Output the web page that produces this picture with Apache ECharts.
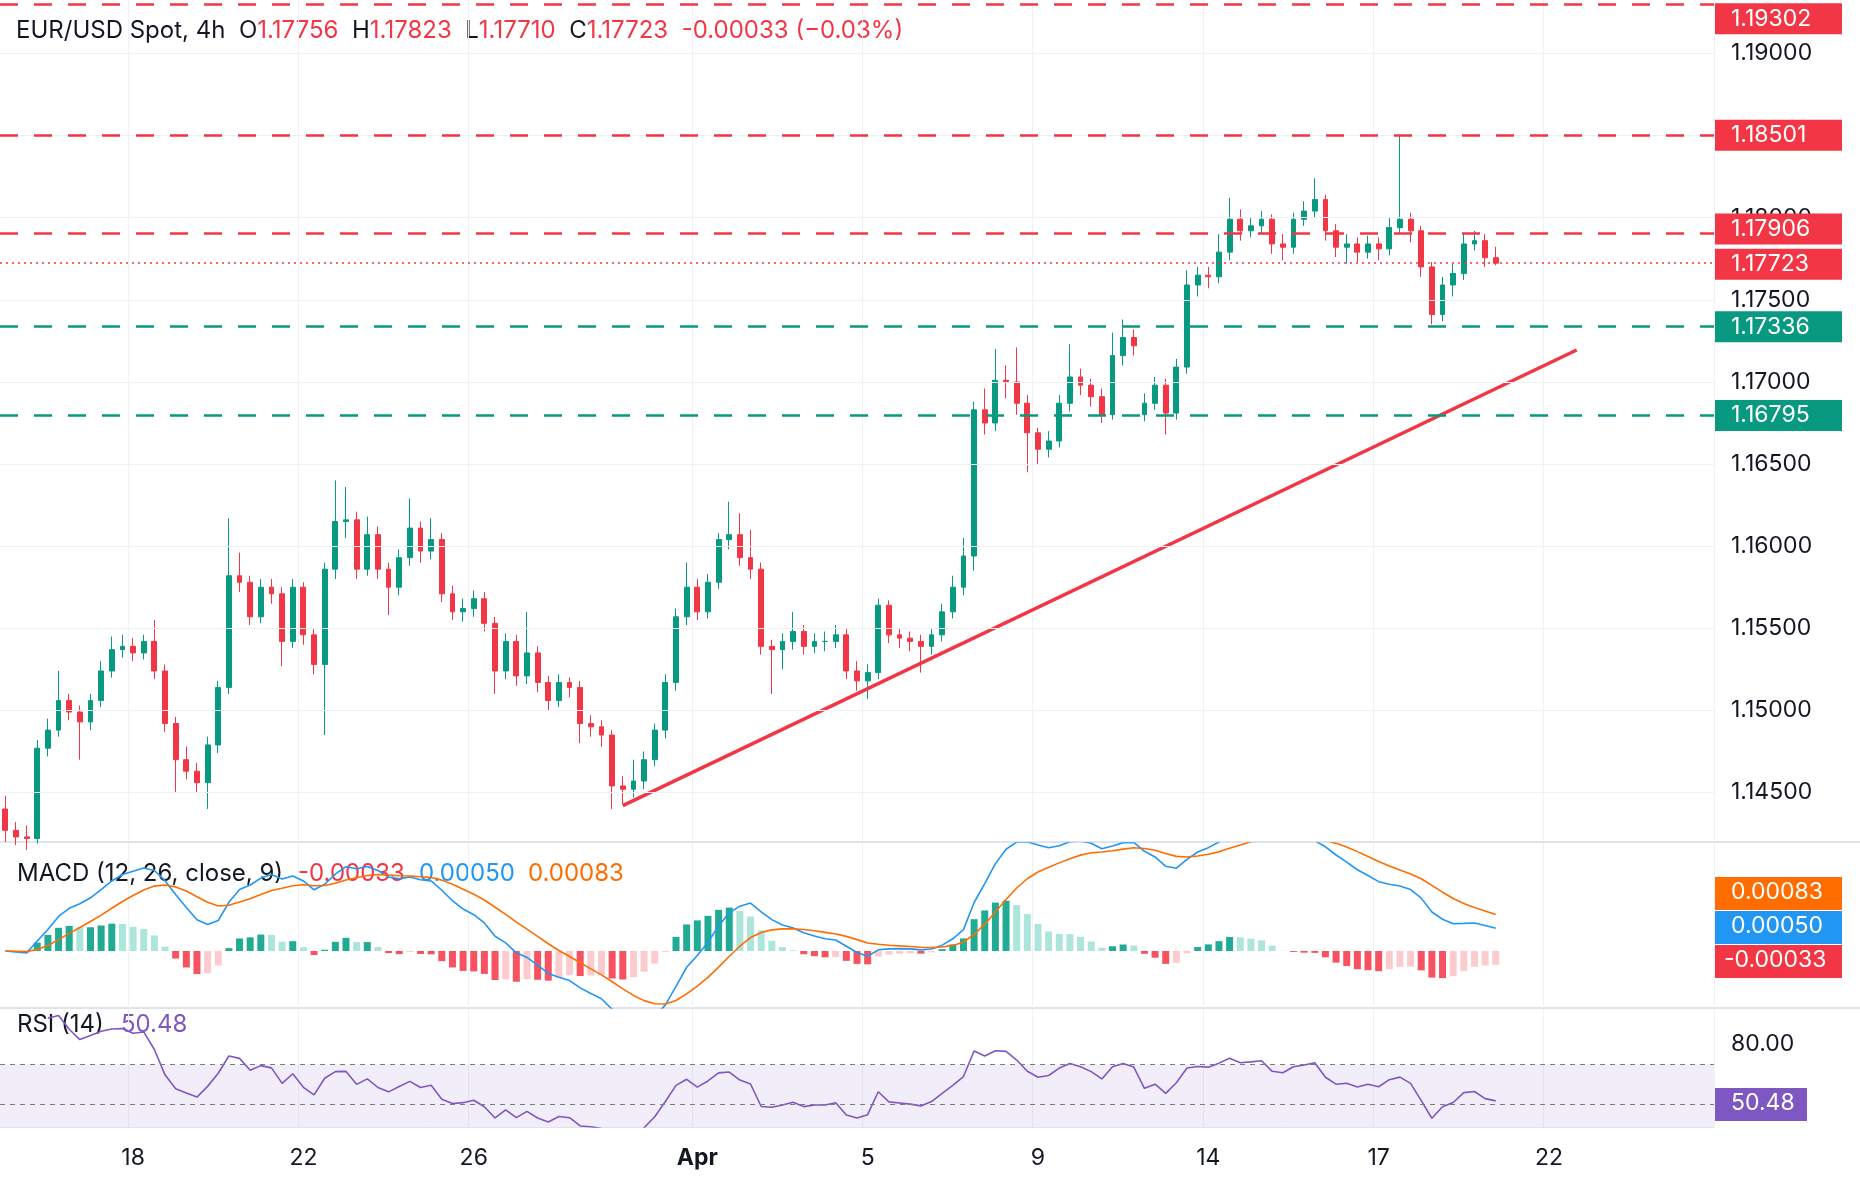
<!DOCTYPE html>
<html>
<head>
<meta charset="utf-8">
<script src="https://cdn.jsdelivr.net/npm/echarts@6/dist/echarts.min.js"></script>
<style>
  html, body { margin: 0; padding: 0; background: #fff; }
  #chart { width: 1860px; height: 1184px; }
</style>
</head>
<body>
<div id="chart"></div>
<script>
// 4h candles, [open, close, low, high]
var candles = [
  [1.1440,1.1427,1.1420,1.1448],[1.1427,1.1423,1.1418,1.1432],[1.1423,1.1422,1.1415,1.1430],[1.1422,1.1477,1.1419,1.1482],
  [1.1477,1.1488,1.1472,1.1495],[1.1488,1.1506,1.1484,1.1524],[1.1506,1.1499,1.1494,1.1510],[1.1499,1.1493,1.1470,1.1503],
  [1.1493,1.1506,1.1488,1.1510],[1.1506,1.1524,1.1502,1.1530],[1.1524,1.1537,1.1520,1.1545],[1.1537,1.1539,1.1532,1.1546],
  [1.1539,1.1535,1.1530,1.1544],[1.1535,1.1542,1.1531,1.1546],[1.1542,1.1524,1.1519,1.1555],[1.1524,1.1492,1.1487,1.1528],
  [1.1492,1.1470,1.1450,1.1496],[1.1470,1.1463,1.1458,1.1478],[1.1463,1.1456,1.1450,1.1468],[1.1456,1.1479,1.1440,1.1484],
  [1.1479,1.1514,1.1474,1.1518],[1.1514,1.1582,1.1510,1.1617],[1.1582,1.1578,1.1572,1.1596],[1.1578,1.1557,1.1552,1.1582],
  [1.1557,1.1575,1.1553,1.1580],[1.1575,1.1571,1.1565,1.1580],[1.1571,1.1542,1.1527,1.1575],[1.1542,1.1575,1.1538,1.1580],
  [1.1575,1.1546,1.1540,1.1578],[1.1546,1.1528,1.1522,1.1550],[1.1528,1.1586,1.1485,1.1590],[1.1586,1.1615,1.1580,1.1640],
  [1.1615,1.1616,1.1605,1.1636],[1.1616,1.1586,1.1580,1.1621],[1.1586,1.1607,1.1582,1.1618],[1.1607,1.1586,1.1580,1.1612],
  [1.1586,1.1575,1.1558,1.1590],[1.1575,1.1593,1.1570,1.1598],[1.1593,1.1611,1.1588,1.1629],[1.1611,1.1597,1.1590,1.1615],
  [1.1597,1.1604,1.1592,1.1617],[1.1604,1.1571,1.1566,1.1608],[1.1571,1.1560,1.1555,1.1576],[1.1560,1.1562,1.1554,1.1568],
  [1.1562,1.1568,1.1557,1.1573],[1.1568,1.1553,1.1548,1.1572],[1.1553,1.1524,1.1510,1.1557],[1.1524,1.1542,1.1519,1.1547],
  [1.1542,1.1521,1.1515,1.1546],[1.1521,1.1535,1.1516,1.1560],[1.1535,1.1517,1.1511,1.1539],[1.1517,1.1506,1.1500,1.1521],
  [1.1506,1.1517,1.1502,1.1522],[1.1517,1.1514,1.1508,1.1520],[1.1514,1.1492,1.1480,1.1518],[1.1492,1.1490,1.1484,1.1497],
  [1.1490,1.1485,1.1478,1.1494],[1.1485,1.1454,1.1440,1.1488],[1.1454,1.1452,1.1443,1.1460],[1.1452,1.1457,1.1447,1.1470],
  [1.1457,1.1470,1.1452,1.1475],[1.1470,1.1488,1.1466,1.1492],[1.1488,1.1517,1.1483,1.1522],[1.1517,1.1557,1.1512,1.1562],
  [1.1557,1.1575,1.1552,1.1590],[1.1575,1.1560,1.1555,1.1580],[1.1560,1.1578,1.1556,1.1583],[1.1578,1.1604,1.1574,1.1608],
  [1.1604,1.1607,1.1598,1.1627],[1.1607,1.1593,1.1588,1.1620],[1.1593,1.1586,1.1580,1.1610],[1.1586,1.1539,1.1534,1.1590],
  [1.1539,1.1537,1.1510,1.1543],[1.1537,1.1542,1.1525,1.1547],[1.1542,1.1548,1.1537,1.1560],[1.1548,1.1539,1.1534,1.1552],
  [1.1539,1.1542,1.1535,1.1547],[1.1542,1.1542,1.1536,1.1548],[1.1542,1.1546,1.1538,1.1552],[1.1546,1.1524,1.1519,1.1550],
  [1.1524,1.1518,1.1512,1.1530],[1.1518,1.1523,1.1507,1.1528],[1.1523,1.1564,1.1519,1.1568],[1.1564,1.1546,1.1541,1.1567],
  [1.1546,1.1544,1.1538,1.1550],[1.1544,1.1542,1.1536,1.1548],[1.1542,1.1539,1.1523,1.1546],[1.1539,1.1546,1.1534,1.1550],
  [1.1546,1.1560,1.1542,1.1565],[1.1560,1.1575,1.1556,1.1582],[1.1575,1.1594,1.1570,1.1605],[1.1594,1.1683,1.1585,1.1688],
  [1.1683,1.1675,1.1668,1.1696],[1.1675,1.1701,1.1670,1.1720],[1.1701,1.1700,1.1690,1.1710],[1.1700,1.1687,1.1680,1.1721],
  [1.1687,1.1669,1.1645,1.1692],[1.1669,1.1659,1.1650,1.1672],[1.1659,1.1664,1.1654,1.1670],[1.1664,1.1687,1.1660,1.1692],
  [1.1687,1.1703,1.1682,1.1723],[1.1703,1.1698,1.1692,1.1708],[1.1698,1.1691,1.1685,1.1702],[1.1691,1.1680,1.1675,1.1696],
  [1.1680,1.1716,1.1677,1.1730],[1.1716,1.1727,1.1710,1.1738],[1.1727,1.1722,1.1716,1.1732],[1.1680,1.1687,1.1676,1.1693],
  [1.1687,1.1698,1.1683,1.1703],[1.1698,1.1681,1.1668,1.1702],[1.1681,1.1709,1.1677,1.1714],[1.1709,1.1759,1.1705,1.1768],
  [1.1759,1.1765,1.1752,1.1770],[1.1765,1.1764,1.1757,1.1770],[1.1764,1.1779,1.1760,1.1790],[1.1779,1.1799,1.1774,1.1812],
  [1.1799,1.1792,1.1786,1.1805],[1.1792,1.1795,1.1788,1.1800],[1.1795,1.1799,1.1790,1.1804],[1.1799,1.1784,1.1778,1.1802],
  [1.1784,1.1782,1.1774,1.1790],[1.1782,1.1799,1.1778,1.1803],[1.1799,1.1804,1.1795,1.1810],[1.1804,1.1811,1.1800,1.1824],
  [1.1811,1.1792,1.1786,1.1814],[1.1792,1.1782,1.1776,1.1796],[1.1782,1.1784,1.1772,1.1790],[1.1784,1.1779,1.1773,1.1788],
  [1.1779,1.1784,1.1775,1.1789],[1.1784,1.1781,1.1774,1.1788],[1.1781,1.1794,1.1777,1.1800],[1.1794,1.1799,1.1790,1.1850],
  [1.1799,1.1792,1.1785,1.1803],[1.1792,1.1770,1.1764,1.1795],[1.1770,1.1741,1.1735,1.1773],[1.1741,1.1759,1.1737,1.1764],
  [1.1759,1.1766,1.1752,1.1772],[1.1766,1.1784,1.1762,1.1790],[1.1784,1.1786,1.1780,1.1792],[1.1786,1.17756,1.1770,1.1790],
  [1.17756,1.17723,1.17710,1.17823]
];
var slotCount = 161;
var tickIndex = [12, 28, 44, 65, 81, 97, 113, 129, 145];
var tickLabels = ['18', '22', '26', 'Apr', '5', '9', '14', '17', '22'];
var priceTicks = [1.145, 1.15, 1.155, 1.16, 1.165, 1.17, 1.175, 1.18, 1.185, 1.19];
var resistLevels = [1.19302, 1.18501, 1.17906];
var supportLevels = [1.17336, 1.16795];
var lastPrice = 1.17723;
var trendIdx = [58, 147.6];
var trendPrice = [1.1442, 1.17194];

var GREEN = '#089981', RED = '#f23645';
var categories = [];
for (var i = 0; i < slotCount; i++) {
  var k = tickIndex.indexOf(i);
  categories.push(k >= 0 ? tickLabels[k] : '');
}
function isTick(i) { return tickIndex.indexOf(i) >= 0; }

// indicators from closes
var closes = candles.map(function (c) { return c[1]; });
function ema(arr, n) {
  var a = 2 / (n + 1), out = [], prev = arr[0];
  arr.forEach(function (v, i) { prev = i ? a * v + (1 - a) * prev : v; out.push(prev); });
  return out;
}
var e12 = ema(closes, 12), e26 = ema(closes, 26);
var macd = closes.map(function (v, i) { return e12[i] - e26[i]; });
var signal = ema(macd, 9);
var hist = macd.map(function (v, i) { return v - signal[i]; });
var histData = hist.map(function (v, i) {
  var p = i ? hist[i - 1] : 0, col;
  if (v >= 0) col = v >= p ? '#22ab94' : '#ace5dc';
  else col = v <= p ? '#f7525f' : '#fccbcd';
  return { value: v, itemStyle: { color: col } };
});
var rsi = [], ag = 0, al = 0;
closes.forEach(function (v, i) {
  if (i === 0) { rsi.push(null); return; }
  var d = v - closes[i - 1], g = d > 0 ? d : 0, l = d < 0 ? -d : 0;
  if (i <= 14) { ag = (ag * (i - 1) + g) / i; al = (al * (i - 1) + l) / i; }
  else { ag = (ag * 13 + g) / 14; al = (al * 13 + l) / 14; }
  rsi.push(i < 4 ? null : (al === 0 ? 100 : 100 - 100 / (1 + ag / al)));
});

var chart = echarts.init(document.getElementById('chart'));
var FONT = 'Inter, "Noto Sans", sans-serif';
var FS = 23;
function tag(v, color, dotted, dy) {
  return {
    yAxis: v,
    lineStyle: { color: color, type: dotted ? [2, 4] : [18, 16], width: dotted ? 1.5 : 2.5 },
    label: {
      show: true, position: 'end', distance: 1, formatter: v.toFixed(5), offset: [0, dy || 0],
      color: '#fff', backgroundColor: color, fontSize: FS, fontFamily: FONT,
      padding: [5, 12, 3, 16], width: 99
    }
  };
}
var levelLines = [tag(resistLevels[0], RED, false, 15), tag(resistLevels[1], RED), tag(resistLevels[2], RED, false, -4)]
  .concat([tag(lastPrice, RED, true, 1)])
  .concat(supportLevels.map(function (v) { return tag(v, GREEN); }));
var gridLines = priceTicks.map(function (v) { return { yAxis: v }; });

function xAxisFor(grid, showLabels) {
  return {
    type: 'category', gridIndex: grid, data: categories, boundaryGap: true,
    axisLine: { show: showLabels, lineStyle: { color: '#e0e3eb' } }, axisTick: { show: false },
    axisLabel: {
      show: showLabels, interval: function (i) { return isTick(i); }, margin: 20,
      fontSize: FS, fontFamily: FONT, color: '#131722',
      formatter: function (v) { return v === 'Apr' ? '{b|Apr}' : v; },
      rich: { b: { fontWeight: 'bold', fontSize: FS, fontFamily: FONT, color: '#131722' } }
    },
    splitLine: { show: true, interval: function (i) { return isTick(i); }, lineStyle: { color: '#f0f1f4' } }
  };
}
function txt(x, y, s, color) {
  return { type: 'text', x: x, y: y, style: { text: s, fontSize: 24, fontFamily: FONT, fill: color } };
}

chart.setOption({
  animation: false,
  backgroundColor: '#fff',
  grid: [
    { left: 0, right: 146, top: 0, height: 840 },
    { left: 0, right: 146, top: 843, height: 165 },
    { left: 0, right: 146, top: 1009, height: 118 }
  ],
  xAxis: [
    xAxisFor(0, false), xAxisFor(1, false), xAxisFor(2, true),
    { type: 'value', gridIndex: 0, min: -0.5, max: slotCount - 0.5, show: false }
  ],
  yAxis: [
    { type: 'value', gridIndex: 0, position: 'right', min: 1.14211, max: 1.19325, scale: true,
      axisLine: { show: false }, axisTick: { show: false }, splitLine: { show: false },
      axisLabel: { customValues: priceTicks, margin: 17, fontSize: FS, fontFamily: FONT, color: '#131722',
        formatter: function (v) { return v.toFixed(5); } } },
    { type: 'value', gridIndex: 1, position: 'right', min: -0.002, max: 0.00379,
      axisLine: { show: false }, axisTick: { show: false }, splitLine: { show: false }, axisLabel: { show: false } },
    { type: 'value', gridIndex: 2, position: 'right', min: 38.8, max: 97.6,
      axisLine: { show: false }, axisTick: { show: false }, splitLine: { show: false },
      axisLabel: { customValues: [80], margin: 17, fontSize: FS, fontFamily: FONT, color: '#131722',
        formatter: function (v) { return v.toFixed(2); } } }
  ],
  series: [
    { type: 'line', xAxisIndex: 0, yAxisIndex: 0, data: [], silent: true,
      markLine: { silent: true, symbol: 'none', precision: 5, label: { show: false },
        lineStyle: { color: '#f0f1f4', type: 'solid', width: 1 }, data: gridLines } },
    { type: 'candlestick', xAxisIndex: 0, yAxisIndex: 0, data: candles, barMaxWidth: 7,
      itemStyle: { color: GREEN, color0: RED, borderColor: GREEN, borderColor0: RED, borderWidth: 1 },
      markLine: { silent: true, symbol: 'none', precision: 5, data: levelLines } },
    { type: 'line', xAxisIndex: 3, yAxisIndex: 0, symbol: 'none', silent: true,
      data: [[trendIdx[0], trendPrice[0]], [trendIdx[1], trendPrice[1]]],
      lineStyle: { color: RED, width: 3.5 } },
    { type: 'bar', xAxisIndex: 1, yAxisIndex: 1, data: histData, barWidth: 7 },
    { type: 'line', xAxisIndex: 1, yAxisIndex: 1, data: macd, symbol: 'none',
      lineStyle: { color: '#2196f3', width: 1.6 } },
    { type: 'line', xAxisIndex: 1, yAxisIndex: 1, data: signal, symbol: 'none',
      lineStyle: { color: '#ff6d00', width: 1.6 } },
    { type: 'line', xAxisIndex: 2, yAxisIndex: 2, data: rsi, symbol: 'none',
      lineStyle: { color: '#7e57c2', width: 1.6 },
      markArea: { silent: true, itemStyle: { color: 'rgba(126,87,194,0.1)' },
        data: [[{ yAxis: 30 }, { yAxis: 70 }]] },
      markLine: { silent: true, symbol: 'none', label: { show: false },
        lineStyle: { color: '#787b86', type: [5, 5], width: 1 },
        data: [{ yAxis: 70 }, { yAxis: 50 }] } }
  ],
  graphic: [
    { type: 'line', shape: { x1: 0, y1: 842, x2: 1860, y2: 842 }, style: { stroke: '#e0e3eb', lineWidth: 2 } },
    { type: 'line', shape: { x1: 0, y1: 1008, x2: 1860, y2: 1008 }, style: { stroke: '#e0e3eb', lineWidth: 2 } },
    { type: 'rect', shape: { x: 0, y: 10, width: 940, height: 46 }, style: { fill: 'rgba(255,255,255,0.85)' } },
    { type: 'text', left: 16, top: 19, style: {
      text: '{k|EUR/USD Spot, 4h  O}{r|1.17756}{k|  H}{r|1.17823}{k|  L}{r|1.17710}{k|  C}{r|1.17723}{r|  -0.00033 (−0.03%)}',
      rich: { k: { fontSize: 24, fontFamily: FONT, fill: '#131722' }, r: { fontSize: 24, fontFamily: FONT, fill: RED } } } },
    txt(17, 862, 'MACD (12, 26, close, 9)', '#131722'),
    txt(298, 862, '-0.00033', RED),
    txt(419, 862, '0.00050', '#2196f3'),
    txt(528, 862, '0.00083', '#ff6d00'),
    txt(17, 1013, 'RSI (14)', '#131722'),
    txt(121, 1013, '50.48', '#7e57c2'),
    { type: 'rect', shape: { x: 1715, y: 877, width: 127, height: 33 }, style: { fill: '#ff6d00' } },
    { type: 'text', x: 1731, y: 881, style: { text: '0.00083', fontSize: FS, fontFamily: FONT, fill: '#fff' } },
    { type: 'rect', shape: { x: 1715, y: 911, width: 127, height: 33 }, style: { fill: '#2196f3' } },
    { type: 'text', x: 1731, y: 915, style: { text: '0.00050', fontSize: FS, fontFamily: FONT, fill: '#fff' } },
    { type: 'rect', shape: { x: 1715, y: 945, width: 127, height: 33 }, style: { fill: RED } },
    { type: 'text', x: 1724, y: 949, style: { text: '-0.00033', fontSize: FS, fontFamily: FONT, fill: '#fff' } },
    { type: 'rect', shape: { x: 1715, y: 1088, width: 92, height: 33 }, style: { fill: '#7e57c2' } },
    { type: 'text', x: 1731, y: 1092, style: { text: '50.48', fontSize: FS, fontFamily: FONT, fill: '#fff' } }
  ]
});
</script>
</body>
</html>
